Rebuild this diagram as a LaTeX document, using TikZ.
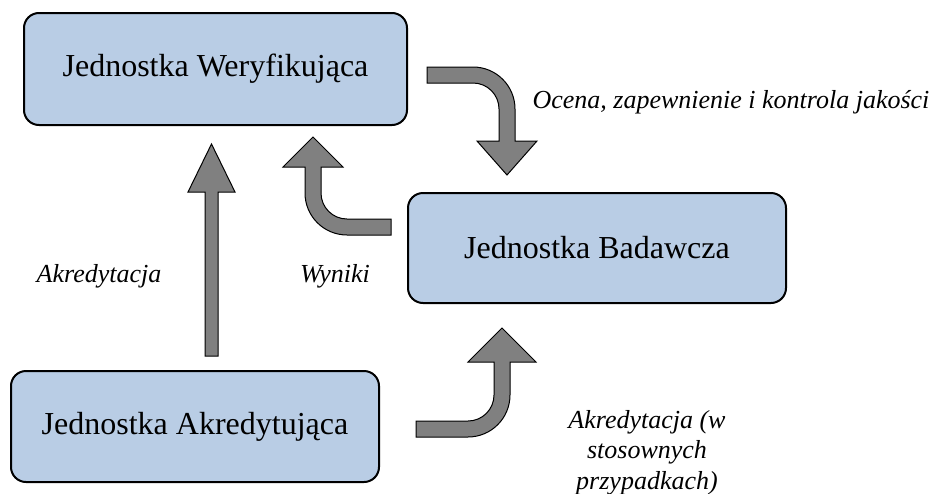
\documentclass[tikz,border=0pt]{standalone}
\usepackage{fontspec}
\setmainfont{Liberation Serif}
\definecolor{boxblue}{HTML}{B9CDE5}
\definecolor{arrowgray}{HTML}{808080}
\begin{document}
\begin{tikzpicture}[x=1pt,y=-1pt,
  unitbox/.style={draw=black, line width=2pt, fill=boxblue, rounded corners=15pt,
    inner sep=0pt, font=\fontsize{32}{38}\selectfont},
  blockarrow/.style={draw=black, line width=1pt, fill=arrowgray, line join=miter},
  lbl/.style={font=\fontsize{26}{30.5}\selectfont\itshape, inner sep=0pt, align=center}]
\useasboundingbox (0,0) rectangle (940,493);
% boxes
\node[unitbox, minimum width=383pt, minimum height=112pt] (wer) at (215.5,69) {Jednostka Weryfikująca};
\node[unitbox, minimum width=378pt, minimum height=110pt] (bad) at (597,248) {Jednostka Badawcza};
\node[unitbox, minimum width=368pt, minimum height=111pt] (akr) at (195,426.5) {Jednostka Akredytująca};
% block arrows
% Weryfikujaca -> Badawcza
\draw[blockarrow] (427,67) -- (473,67) arc[start angle=-90,end angle=0,radius=42]
  -- (515,141) -- (537,141) -- (507,175) -- (477,141) -- (499,141) -- (499,109)
  arc[start angle=0,end angle=-90,radius=26] -- (427,83) -- cycle;
% Badawcza -> Weryfikujaca
\draw[blockarrow] (391,235) -- (347,235) arc[start angle=90,end angle=180,radius=42]
  -- (305,167) -- (283,167) -- (313,137) -- (343,167) -- (321,167) -- (321,193)
  arc[start angle=180,end angle=90,radius=26] -- (391,219) -- cycle;
% Akredytujaca -> Badawcza
\draw[blockarrow] (416,421) -- (468,421) arc[start angle=90,end angle=0,radius=26]
  -- (494,362) -- (468,362) -- (502,328) -- (536,362) -- (510,362) -- (510,395)
  arc[start angle=0,end angle=90,radius=42] -- (416,437) -- cycle;
% Akredytujaca -> Weryfikujaca
\draw[blockarrow] (205,356) -- (205,192) -- (188,192) -- (211.5,144) -- (235,192)
  -- (218,192) -- (218,356) -- cycle;
% labels
\node[lbl, anchor=base] (l1) at (731,108) {Ocena, zapewnienie i kontrola jakości};
\node[lbl, anchor=base] (l2) at (99,282) {Akredytacja};
\node[lbl, anchor=base] (l3) at (335,282) {Wyniki};
\node[lbl, anchor=base] (l4) at (647,489) {Akredytacja (w\\stosownych\\przypadkach)};
\end{tikzpicture}
\end{document}
